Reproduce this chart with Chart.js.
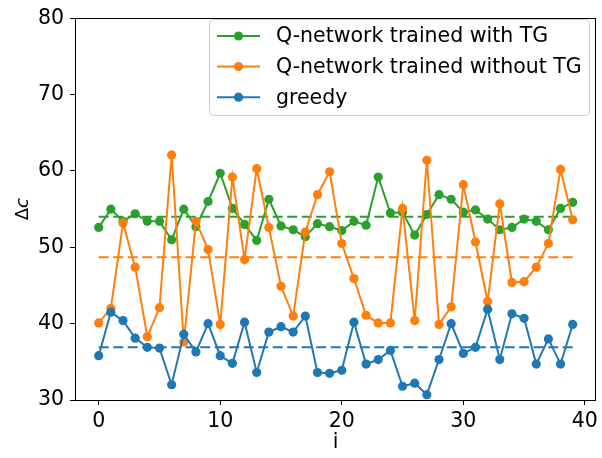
<!DOCTYPE html>
<html>
<head>
<meta charset="utf-8">
<script src="https://cdn.jsdelivr.net/npm/chart.js@4.4.1/dist/chart.umd.min.js"></script>
<style>
	html, body { margin: 0; padding: 0; background: #fff; }
	#wrap { width: 602px; height: 458px; }
</style>
</head>
<body>
<div id="wrap"><canvas id="deltaChart"></canvas></div>
<script>
// x positions (episode index i)
const episodes = [0, 1, 2, 3, 4, 5, 6, 7, 8, 9, 10, 11, 12, 13, 14, 15, 16, 17, 18, 19,
	20, 21, 22, 23, 24, 25, 26, 27, 28, 29, 30, 31, 32, 33, 34, 35, 36, 37, 38, 39];

// delta c
const withTG = [52.6, 55.0, 53.4, 54.4, 53.4, 53.4, 51.0, 55.0, 52.7, 56.0,
	59.7, 55.1, 53.0, 50.9, 56.3, 52.8, 52.3, 51.4, 53.1, 52.7,
	52.2, 53.4, 52.9, 59.2, 54.5, 54.6, 51.6, 54.3, 56.9, 56.3,
	54.6, 54.9, 53.7, 52.3, 52.6, 53.7, 53.4, 52.3, 55.1, 55.9];
const withoutTG = [40.1, 42.0, 53.2, 47.4, 38.3, 42.1, 62.1, 37.6, 53.4, 49.7,
	39.9, 59.2, 48.4, 60.3, 52.6, 44.9, 41.0, 52.0, 56.9, 59.9,
	50.5, 45.9, 41.1, 40.1, 40.1, 55.1, 40.4, 61.4, 39.9, 42.2,
	58.2, 50.7, 42.9, 55.7, 45.4, 45.5, 47.4, 50.5, 60.2, 53.6];
const greedy = [35.8, 41.5, 40.4, 38.1, 36.9, 36.8, 32.0, 38.6, 36.3, 40.0,
	35.8, 34.8, 40.2, 33.6, 38.9, 39.6, 38.9, 41.0, 33.6, 33.5,
	33.9, 40.2, 34.7, 35.3, 36.5, 31.8, 32.2, 30.7, 35.3, 40.0,
	36.1, 36.9, 41.9, 35.3, 41.3, 40.7, 34.7, 38.0, 34.7, 39.9];

// dashed mean levels
const meanWithTG = 54.0;
const meanWithoutTG = 48.7;
const meanGreedy = 36.9;

const xTicks = [0, 10, 20, 30, 40];
const yTicks = [30, 40, 50, 60, 70, 80];

const GREEN = '#2ca02c';
const ORANGE = '#ff7f0e';
const BLUE = '#1f77b4';
const FONT = 'DejaVu Sans';

const toPoints = vals => vals.map((v, k) => ({ x: episodes[k], y: v }));
const meanLine = m => [{ x: episodes[0], y: m }, { x: episodes[episodes.length - 1], y: m }];

function series(label, vals, color, order) {
	return {
		label: label,
		data: toPoints(vals),
		borderColor: color,
		backgroundColor: color,
		borderWidth: 2,
		pointRadius: 4.6,
		pointBorderWidth: 0,
		pointBackgroundColor: color,
		tension: 0,
		order: order,
		inKey: true
	};
}

function dashed(vals, color) {
	return {
		label: '',
		data: meanLine(vals),
		borderColor: color,
		borderWidth: 2,
		borderDash: [10, 4.5],
		pointRadius: 0,
		order: 5
	};
}

// matplotlib-like box around the axes
const framePlugin = {
	id: 'frame',
	afterDatasetsDraw(chart) {
		const a = chart.chartArea;
		const ctx = chart.ctx;
		ctx.save();
		ctx.strokeStyle = '#000';
		ctx.lineWidth = 1;
		ctx.strokeRect(Math.round(a.left) + 0.5, Math.round(a.top) + 0.5,
			Math.round(a.right - a.left) - 1, Math.round(a.bottom - a.top));
		ctx.restore();
	}
};

// y label: upright delta, italic c (mathtext style)
const yLabelPlugin = {
	id: 'yLabel',
	afterDraw(chart) {
		const ctx = chart.ctx;
		const a = chart.chartArea;
		ctx.save();
		ctx.translate(27.5, (a.top + a.bottom) / 2);
		ctx.rotate(-Math.PI / 2);
		ctx.fillStyle = '#000';
		ctx.textBaseline = 'alphabetic';
		const up = '18px "' + FONT + '"';
		const it = 'italic 18px "' + FONT + '"';
		ctx.font = up;
		const w1 = ctx.measureText('Δ').width;
		ctx.font = it;
		const w2 = ctx.measureText('c').width;
		const x0 = -(w1 + w2) / 2;
		ctx.font = up;
		ctx.fillText('Δ', x0, 0);
		ctx.font = it;
		ctx.fillText('c', x0 + w1, 0);
		ctx.restore();
	}
};

// legend with line + marker keys, upper right
const keyPlugin = {
	id: 'key',
	afterDraw(chart) {
		const ctx = chart.ctx;
		const items = chart.data.datasets.filter(d => d.inKey);
		const x0 = 209.5, y0 = 19.5, w = 380, h = 96, r = 4;
		ctx.save();
		ctx.fillStyle = 'rgba(255,255,255,0.8)';
		ctx.strokeStyle = '#cccccc';
		ctx.lineWidth = 1;
		ctx.beginPath();
		ctx.roundRect(x0, y0, w, h, r);
		ctx.fill();
		ctx.stroke();
		ctx.font = '20.5px "' + FONT + '"';
		ctx.textBaseline = 'middle';
		items.forEach((d, k) => {
			const y = 36 + k * 30.6;
			ctx.strokeStyle = d.borderColor;
			ctx.lineWidth = 2;
			ctx.beginPath();
			ctx.moveTo(217, y);
			ctx.lineTo(260, y);
			ctx.stroke();
			ctx.fillStyle = d.borderColor;
			ctx.beginPath();
			ctx.arc(238.5, y, 4.6, 0, Math.PI * 2);
			ctx.fill();
			ctx.fillStyle = '#000';
			ctx.fillText(d.label, 276, y + 1);
		});
		ctx.restore();
	}
};

Chart.defaults.color = '#000';
Chart.defaults.font.family = FONT;
Chart.defaults.font.size = 20;

new Chart(document.getElementById('deltaChart'), {
	type: 'line',
	data: {
		datasets: [
			series('Q-network trained with TG', withTG, GREEN, 2),
			series('Q-network trained without TG', withoutTG, ORANGE, 1),
			series('greedy', greedy, BLUE, 0),
			dashed(meanWithTG, GREEN),
			dashed(meanWithoutTG, ORANGE),
			dashed(meanGreedy, BLUE)
		]
	},
	options: {
		responsive: true,
		maintainAspectRatio: false,
		animation: false,
		layout: { padding: { top: 9, right: 1, left: 0, bottom: 0 } },
		plugins: {
			legend: { display: false },
			tooltip: { enabled: false }
		},
		scales: {
			x: {
				type: 'linear',
				min: -1.95,
				max: 40.95,
				afterBuildTicks: s => { s.ticks = xTicks.map(v => ({ value: v })); },
				afterFit: s => { s.height = 58; },
				ticks: { padding: 4, color: '#000', font: { size: 20.5 } },
				grid: { drawOnChartArea: false, drawTicks: true, tickLength: 5, color: '#000' },
				border: { display: false },
				title: { display: true, text: 'i', font: { size: 20.5 }, padding: { top: 0, bottom: 3 } }
			},
			y: {
				type: 'linear',
				min: 30,
				max: 80,
				afterBuildTicks: s => { s.ticks = yTicks.map(v => ({ value: v })); },
				afterFit: s => { s.width = 75; },
				ticks: { padding: 6, color: '#000', font: { size: 20.5 } },
				grid: { drawOnChartArea: false, drawTicks: true, tickLength: 5, color: '#000' },
				border: { display: false },
				title: { display: false }
			}
		}
	},
	plugins: [framePlugin, yLabelPlugin, keyPlugin]
});
</script>
</body>
</html>
